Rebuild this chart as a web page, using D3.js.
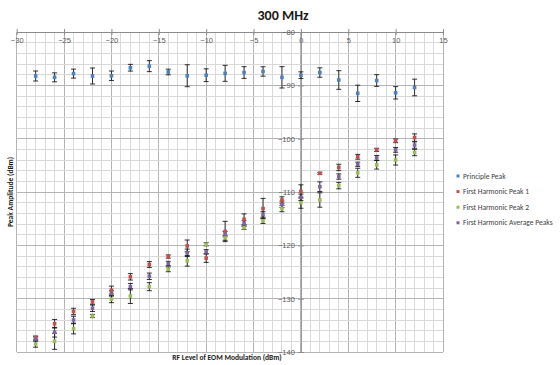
<!DOCTYPE html>
<html>
<head>
<meta charset="utf-8">
<script src="https://cdn.jsdelivr.net/npm/d3@7"></script>
<style>
  html, body { margin: 0; padding: 0; background: #fff; }
  svg { display: block; font-family: Carlito, Lato, "Liberation Sans", sans-serif; }
</style>
</head>
<body>
<svg id="chart" width="560" height="365"></svg>
<script>
// RF level of the EOM modulation (dBm)
const rfLevels = [-28, -26, -24, -22, -20, -18, -16, -14, -12, -10, -8, -6, -4, -2, 0, 2, 4, 6, 8, 10, 12];

// Peak amplitudes (dBm) and their error half-widths
const principlePeak = [-88.25, -88.5, -87.8, -88.25, -88.2, -86.7, -86.4, -87.5, -88.2, -88.1, -87.75, -87.6, -87.4, -88.5, -88.1, -87.6, -89.0, -91.5, -89.1, -91.4, -90.4];
const principleErr  = [0.94, 0.84, 0.84, 1.5, 0.88, 0.63, 1.03, 0.53, 2.06, 1.2, 1.5, 1.1, 0.88, 2.0, 0.63, 0.88, 1.75, 1.53, 1.1, 1.16, 1.56];

const harmonicPeak1 = [-137.3, -134.7, -132.4, -130.6, -128.4, -125.9, -123.6, -122.1, -120.1, -122.4, -117.4, -115.1, -113.1, -111.5, -109.9, -106.5, -105.4, -103.4, -102.1, -100.4, -99.8];
const harmonicPeak1Err = [0.3, 0.8, 0.6, 0.45, 0.75, 0.6, 0.55, 0.3, 1.1, 0.8, 1.9, 1.0, 1.9, 0.6, 1.25, 0.2, 0.6, 0.45, 0.3, 0.35, 0.7];

const harmonicPeak2 = [-138.5, -138.0, -135.6, -133.25, -130.1, -129.5, -127.75, -124.5, -122.9, -119.8, -118.6, -116.7, -115.4, -113.1, -112.0, -111.5, -108.8, -106.4, -104.9, -104.0, -102.6];
const harmonicPeak2Err = [0.6, 1.5, 1.0, 0.3, 0.65, 1.4, 0.75, 0.45, 1.0, 0.3, 0.45, 0.3, 0.5, 0.6, 1.05, 1.35, 0.6, 0.85, 0.8, 0.95, 0.6];

const harmonicAvg = [-137.56, -136.3, -134.0, -131.8, -129.0, -127.75, -125.8, -123.4, -121.4, -121.2, -117.9, -115.9, -114.2, -112.3, -111.0, -109.0, -107.1, -104.8, -103.6, -102.1, -101.2];
const harmonicAvgErr = [0.4, 0.9, 0.7, 0.6, 0.5, 0.6, 0.6, 0.4, 0.7, 0.4, 0.5, 0.5, 0.5, 0.6, 0.6, 0.9, 0.5, 0.4, 0.45, 0.45, 0.6];

const seriesNames = ["Principle Peak", "First Harmonic Peak 1", "First Harmonic Peak 2", "First Harmonic Average Peaks"];
const seriesColors = ["#4f81bd", "#c0504d", "#9bbb59", "#8064a2"];

const xTicks = [-30, -25, -20, -15, -10, -5, 0, 5, 10, 15];
const yTicks = [-140, -130, -120, -110, -100, -90, -80];

const series = [
  { values: principlePeak, errors: principleErr },
  { values: harmonicPeak1, errors: harmonicPeak1Err },
  { values: harmonicPeak2, errors: harmonicPeak2Err },
  { values: harmonicAvg, errors: harmonicAvgErr }
].map((s, i) => ({ ...s, name: seriesNames[i], color: seriesColors[i] }));

const svg = d3.select("#chart");
const x = d3.scaleLinear().domain([-30, 15]).range([16.7, 443]);
const y = d3.scaleLinear().domain([-140, -80]).range([352, 32]);

// Gridlines: minor every 1 dBm (x) / 2 dB (y), major every 5 / 10
const grid = svg.append("g");
grid.selectAll("line.vminor").data(d3.range(-30, 15.01, 1)).join("line")
  .attr("x1", d => x(d)).attr("x2", d => x(d)).attr("y1", y(-80)).attr("y2", y(-140))
  .attr("stroke", d => d % 5 === 0 ? "#b4b4b4" : "#d9d9d9").attr("stroke-width", 1)
  .attr("shape-rendering", "crispEdges");
grid.selectAll("line.hminor").data(d3.range(-140, -79.99, 2)).join("line")
  .attr("y1", d => y(d)).attr("y2", d => y(d)).attr("x1", x(-30)).attr("x2", x(15))
  .attr("stroke", d => d % 10 === 0 ? "#b4b4b4" : "#d9d9d9").attr("stroke-width", 1)
  .attr("shape-rendering", "crispEdges");

// Horizontal axis runs along the top edge (y = -80), labels below it
const xAxis = d3.axisBottom(x).tickValues(xTicks).tickSizeInner(3).tickSizeOuter(0).tickPadding(3)
  .tickFormat(d3.format("d"));
const gx = svg.append("g").attr("transform", `translate(0,${y(-80)})`).call(xAxis);
gx.select(".domain").attr("stroke", "#8c8c8c");
gx.selectAll(".tick line").attr("stroke", "#8c8c8c").attr("y1", -3);
gx.selectAll(".tick text").attr("fill", "#595959").style("font-size", "7.5px");

// Vertical axis at x = 0
const yAxis = d3.axisLeft(y).tickValues(yTicks).tickSizeInner(3).tickSizeOuter(0).tickPadding(3)
  .tickFormat(d3.format("d"));
const gy = svg.append("g").attr("transform", `translate(${x(0)},0)`).call(yAxis);
gy.select(".domain").attr("stroke", "#8c8c8c");
gy.selectAll(".tick line").attr("stroke", "#8c8c8c").attr("x1", 3);
gy.selectAll(".tick text").attr("fill", "#595959").style("font-size", "7.5px");

// Error bars
const capHalf = 2.5;
const bars = svg.append("g");
series.forEach(s => {
  const g = bars.append("g");
  const pts = rfLevels.map((lv, i) => ({ x: lv, v: s.values[i], e: s.errors[i] }));
  g.selectAll("line.stem").data(pts).join("line")
    .attr("x1", d => x(d.x)).attr("x2", d => x(d.x))
    .attr("y1", d => y(d.v + d.e)).attr("y2", d => y(d.v - d.e))
    .attr("stroke", "#1a1a1a").attr("stroke-width", 0.9);
  g.selectAll("line.top").data(pts).join("line")
    .attr("x1", d => x(d.x) - capHalf).attr("x2", d => x(d.x) + capHalf)
    .attr("y1", d => y(d.v + d.e)).attr("y2", d => y(d.v + d.e))
    .attr("stroke", "#1a1a1a").attr("stroke-width", 0.9);
  g.selectAll("line.bot").data(pts).join("line")
    .attr("x1", d => x(d.x) - capHalf).attr("x2", d => x(d.x) + capHalf)
    .attr("y1", d => y(d.v - d.e)).attr("y2", d => y(d.v - d.e))
    .attr("stroke", "#1a1a1a").attr("stroke-width", 0.9);
});

// Markers
const msz = 3.6;
series.forEach(s => {
  svg.append("g").selectAll("rect").data(rfLevels.map((lv, i) => ({ x: lv, v: s.values[i] }))).join("rect")
    .attr("x", d => x(d.x) - msz / 2).attr("y", d => y(d.v) - msz / 2)
    .attr("width", msz).attr("height", msz).attr("fill", s.color);
});

// Title and axis titles
svg.append("text").attr("x", 283).attr("y", 20).attr("text-anchor", "middle")
  .style("font-size", "14px").style("font-weight", "bold").attr("fill", "#1a1a1a").text("300 MHz");
svg.append("text").attr("transform", `translate(13,${(y(-80) + y(-140)) / 2}) rotate(-90)`)
  .attr("text-anchor", "middle").style("font-size", "7.5px").style("font-weight", "bold")
  .attr("fill", "#1a1a1a").text("Peak Amplitude (dBm)");
svg.append("text").attr("x", 227).attr("y", 360).attr("text-anchor", "middle")
  .style("font-size", "7.5px").style("font-weight", "bold").attr("fill", "#1a1a1a")
  .text("RF Level of EOM Modulation (dBm)");

// Legend
const legend = svg.append("g").attr("transform", "translate(458,176)");
const items = legend.selectAll("g").data(series).join("g")
  .attr("transform", (d, i) => `translate(0,${i * 15.6})`);
items.append("rect").attr("x", -1.5).attr("y", -1.5).attr("width", 3).attr("height", 3).attr("fill", d => d.color);
items.append("text").attr("x", 5).attr("y", 2.5).style("font-size", "7.5px").attr("fill", "#404040")
  .text(d => d.name);
</script>
</body>
</html>
